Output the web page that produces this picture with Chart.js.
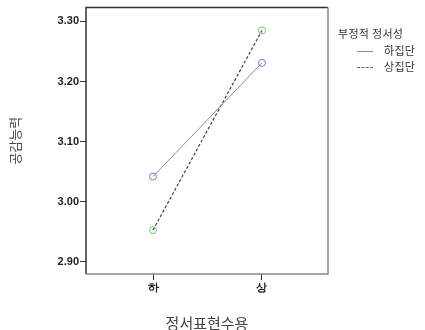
<!DOCTYPE html>
<html>
<head>
<meta charset="utf-8">
<script src="https://cdn.jsdelivr.net/npm/chart.js@4.4.1/dist/chart.umd.min.js"></script>
<style>
html,body{margin:0;padding:0;background:#fff;}
#wrap{position:relative;width:425px;height:330px;}
canvas{position:absolute;left:0;top:0;}
.lg{position:absolute;font-family:"Noto Sans CJK KR","Noto Sans",sans-serif;font-size:11px;color:#333;white-space:nowrap;line-height:1;letter-spacing:0.3px;}
.sw{position:absolute;height:0;}
</style>
</head>
<body>
<div id="wrap">
<canvas id="c" width="425" height="330"></canvas>
<div class="lg" id="lgTitle" style="left:338px;top:28px;"></div>
<div class="sw" style="left:357px;top:51px;width:16px;border-top:1px solid #7f86cf;"></div>
<div class="lg" id="lg0" style="left:384px;top:45px;"></div>
<div class="sw" style="left:357px;top:67px;width:16px;border-top:1px dashed #666;"></div>
<div class="lg" id="lg1" style="left:384px;top:61px;"></div>
</div>
<script>
// ---- data ----
const categories = ['하', '상'];
const seriesNames = ['하집단', '상집단'];
const lowGroup = [3.042, 3.231];
const highGroup = [2.953, 3.285];
const yTicks = [2.90, 3.00, 3.10, 3.20, 3.30];
const legendTitle = '부정적 정서성';
const xTitle = '정서표현수용';
const yTitle = '공감능력';

document.getElementById('lgTitle').textContent = legendTitle;
document.getElementById('lg0').textContent = seriesNames[0];
document.getElementById('lg1').textContent = seriesNames[1];

const toPts = arr => arr.map((v, i) => ({x: i + 1, y: v}));

const framePlugin = {
  id: 'frame',
  afterDraw(chart) {
    const a = chart.chartArea, ctx = chart.ctx;
    ctx.save();
    ctx.lineWidth = 1.5;
    ctx.strokeStyle = '#333';
    ctx.beginPath();
    ctx.moveTo(a.left, a.bottom);
    ctx.lineTo(a.left, a.top);
    ctx.lineTo(a.right, a.top);
    ctx.stroke();
    ctx.strokeStyle = '#888';
    ctx.beginPath();
    ctx.moveTo(a.right, a.top);
    ctx.lineTo(a.right, a.bottom);
    ctx.lineTo(a.left, a.bottom);
    ctx.stroke();
    ctx.restore();
  }
};

new Chart(document.getElementById('c'), {
  type: 'scatter',
  data: {
    datasets: [
      {
        label: seriesNames[0],
        data: toPts(lowGroup),
        showLine: true,
        borderColor: '#7f86cf',
        borderWidth: 1,
        pointRadius: 3.5,
        pointBorderWidth: 1,
        pointBorderColor: '#7a7ad0',
        pointBackgroundColor: 'rgba(0,0,0,0)'
      },
      {
        label: seriesNames[1],
        data: toPts(highGroup),
        showLine: true,
        borderColor: '#444',
        borderWidth: 1.2,
        borderDash: [3, 2],
        pointRadius: 3.5,
        pointBorderWidth: 1,
        pointBorderColor: '#6cc87a',
        pointBackgroundColor: 'rgba(0,0,0,0)'
      }
    ]
  },
  options: {
    responsive: false,
    animation: false,
    devicePixelRatio: 1,
    layout: {padding: {top: 6, right: 97, left: 0, bottom: 0}},
    plugins: {legend: {display: false}, tooltip: {enabled: false}},
    scales: {
      x: {
        type: 'linear',
        min: 0.385,
        max: 2.606,
        afterBuildTicks: s => { s.ticks = categories.map((c, i) => ({value: i + 1})); },
        afterFit: s => { s.height = 56; },
        ticks: {
          callback: (v) => categories[v - 1],
          font: {family: 'Liberation Sans, Arial, sans-serif', size: 11, weight: 'bold'},
          color: '#222',
          padding: 1,
          maxRotation: 0
        },
        grid: {drawOnChartArea: false, tickLength: 6, color: '#333', lineWidth: 1},
        border: {display: false},
        title: {
          display: true,
          text: xTitle,
          font: {family: 'Noto Sans CJK KR, sans-serif', size: 15},
          color: '#444',
          padding: {top: 0, bottom: -2}
        }
      },
      y: {
        type: 'linear',
        min: 2.880,
        max: 3.323,
        afterBuildTicks: s => { s.ticks = yTicks.map(v => ({value: v})); },
        afterFit: s => { s.width = 86; },
        ticks: {
          callback: v => v.toFixed(2),
          font: {family: 'Liberation Sans, Arial, sans-serif', size: 11, weight: 'bold'},
          color: '#222',
          padding: 1
        },
        grid: {drawOnChartArea: false, tickLength: 6, color: '#333', lineWidth: 1},
        border: {display: false},
        title: {
          display: true,
          text: yTitle,
          font: {family: 'Noto Sans CJK KR, sans-serif', size: 13},
          color: '#444',
          padding: {top: 7, bottom: 0}
        }
      }
    }
  },
  plugins: [framePlugin]
});
</script>
</body>
</html>
